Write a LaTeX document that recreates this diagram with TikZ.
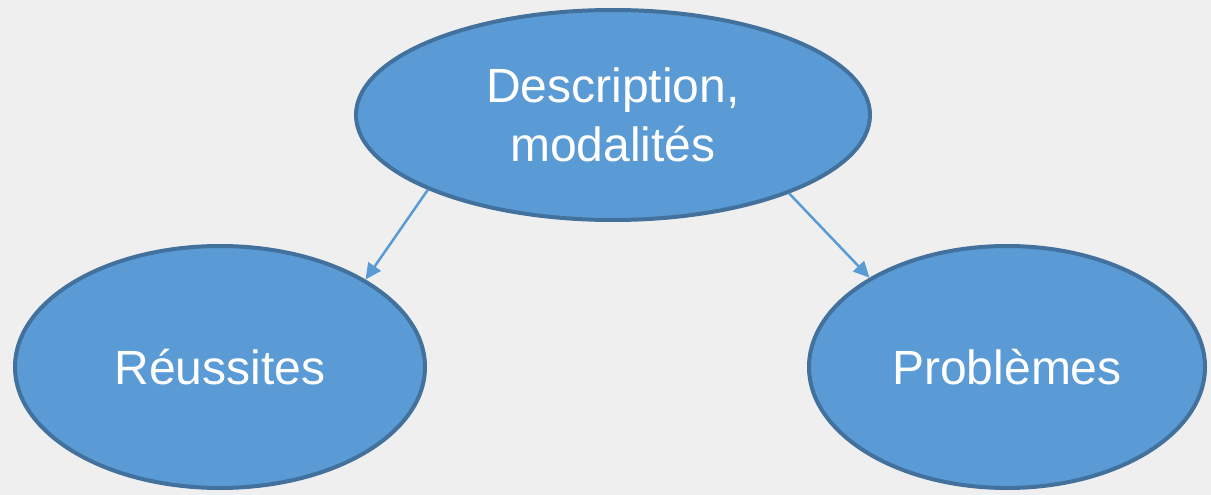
\documentclass[tikz,border=0pt]{standalone}
\usepackage{fontspec}
\setmainfont{Liberation Sans}
\usetikzlibrary{shapes.geometric,arrows.meta}
\definecolor{bg}{HTML}{EFEFEF}
\definecolor{fillblue}{HTML}{5B9BD5}
\definecolor{edgeblue}{HTML}{41719C}
\tikzset{
  bubble/.style={ellipse, draw=edgeblue, fill=fillblue, line width=4pt, inner sep=0pt,
    text=white, font=\fontsize{48}{59}\selectfont, align=center},
  link/.style={draw=fillblue, line width=2.5pt, -{Triangle[length=16pt,width=15pt]}}
}
\begin{document}
\begin{tikzpicture}[x=1pt,y=-1pt]
\fill[bg] (0,0) rectangle (1211,495);
\useasboundingbox (0,0) rectangle (1211,495);
\node[bubble, minimum width=514pt, minimum height=210pt] (top) at (613,115) {Description,\\modalités};
\node[bubble, minimum width=410pt, minimum height=242pt] (left) at (220,367) {Réussites};
\node[bubble, minimum width=396pt, minimum height=242pt] (right) at (1007,367) {Problèmes};
\draw[link] (top.202.8) -- (left.31);
\draw[link] (top.336.8) -- (right.147.2);
\end{tikzpicture}
\end{document}
